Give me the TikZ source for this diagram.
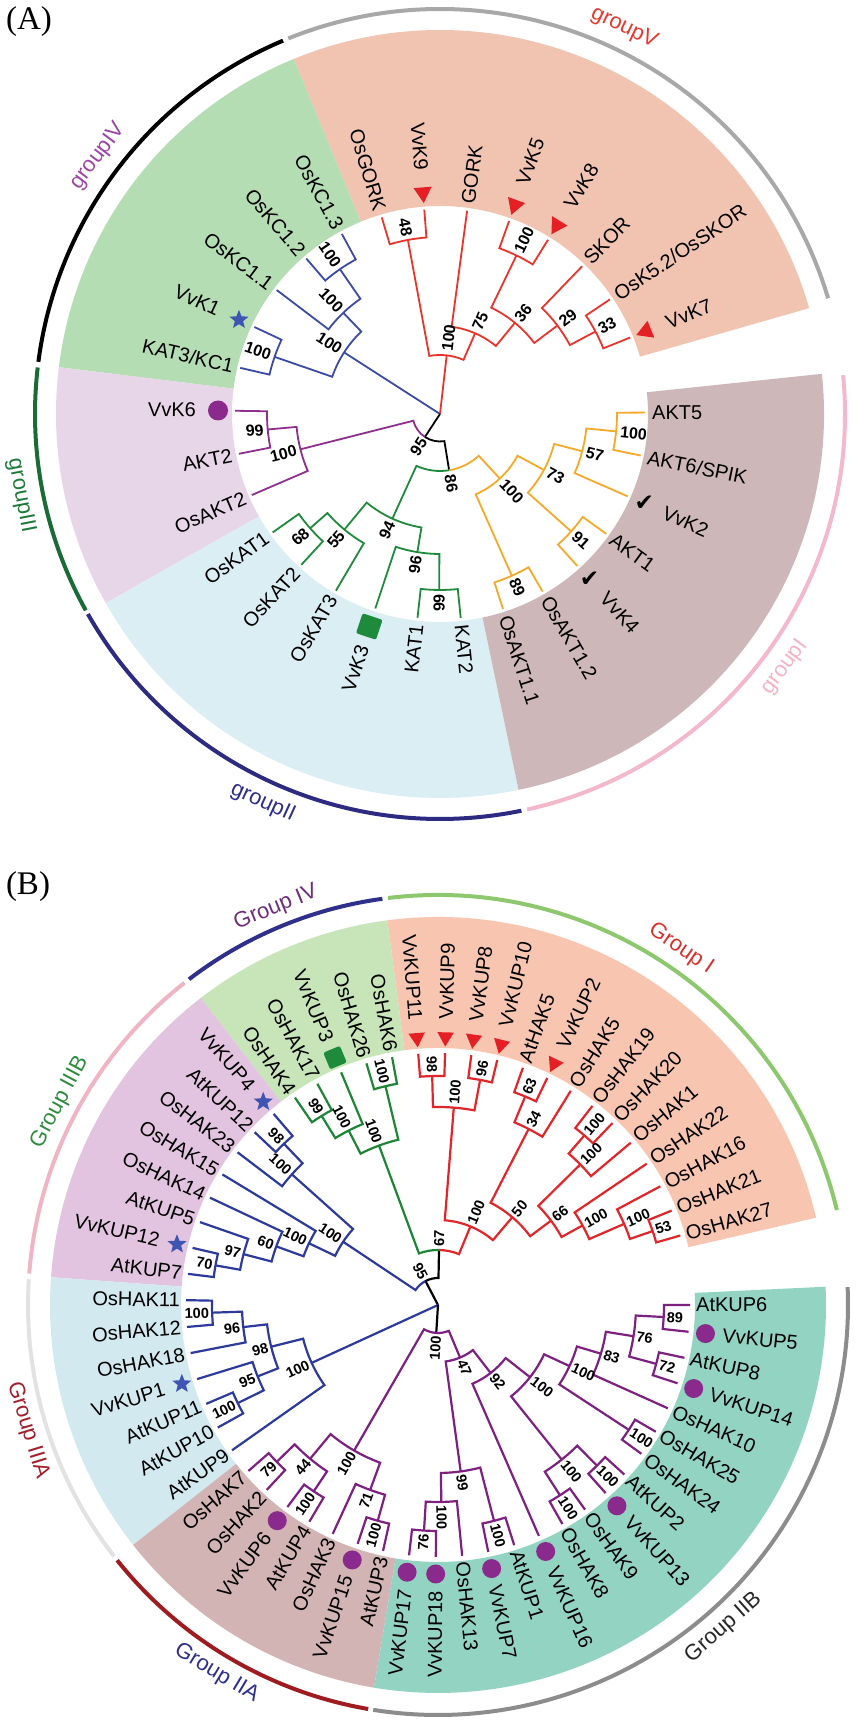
\documentclass[tikz,border=0pt]{standalone}
\usepackage{fontspec}
\setmainfont{Liberation Sans}
\newfontfamily\panelfont{Liberation Serif}
\newfontfamily\symfont{DejaVu Sans}
\usetikzlibrary{shapes.geometric}

% tree colours
\definecolor{aRed}{HTML}{E8352B}
\definecolor{aBlue}{HTML}{3A4AA6}
\definecolor{aPurple}{HTML}{8E2F8E}
\definecolor{aGreen}{HTML}{1F8A3C}
\definecolor{aOrange}{HTML}{F6A928}
\definecolor{bRed}{HTML}{E1262B}
\definecolor{bBlue}{HTML}{2C3A9C}
\definecolor{bPurple}{HTML}{7D2180}
\definecolor{bGreen}{HTML}{1E8436}
% sector colours
\definecolor{bgSalmonA}{HTML}{F1C3B1}
\definecolor{bgGreenA}{HTML}{B5DDB3}
\definecolor{bgLilacA}{HTML}{E7D6E7}
\definecolor{bgSkyA}{HTML}{DBEEF3}
\definecolor{bgMauveA}{HTML}{CEB7B8}
\definecolor{bgGreenB}{HTML}{C7E5B9}
\definecolor{bgSalmonB}{HTML}{F8C6B0}
\definecolor{bgLilacB}{HTML}{E2C4E0}
\definecolor{bgSkyB}{HTML}{D2EAEF}
\definecolor{bgMauveB}{HTML}{D3B4B5}
\definecolor{bgTealB}{HTML}{92D4C1}
% group arcs and titles
\definecolor{arcGreyA}{HTML}{A8A8A8}
\definecolor{arcGreenA}{HTML}{1B6B36}
\definecolor{arcNavyA}{HTML}{2D2A82}
\definecolor{arcPinkA}{HTML}{F4B8CB}
\definecolor{labRedA}{HTML}{E5392F}
\definecolor{labPurpleA}{HTML}{9B45A5}
\definecolor{labGreenA}{HTML}{1F7A3A}
\definecolor{labNavyA}{HTML}{2E2D8C}
\definecolor{labPinkA}{HTML}{F4B3C5}
\definecolor{arcNavyB}{HTML}{2F2F8C}
\definecolor{arcGreenB}{HTML}{8DC86F}
\definecolor{arcPinkB}{HTML}{F0B5C5}
\definecolor{arcGreyLB}{HTML}{E2E2E2}
\definecolor{arcRedB}{HTML}{9E1C1F}
\definecolor{arcGreyB}{HTML}{8C8C8C}
\definecolor{labPurpleB}{HTML}{6E2C7C}
\definecolor{labRedB}{HTML}{D8312C}
\definecolor{labGreenB}{HTML}{2D8B3E}
\definecolor{labRedDB}{HTML}{A11F2A}
\definecolor{labNavyB}{HTML}{2E2F8C}
\definecolor{markRed}{HTML}{E52025}
\definecolor{markBlue}{HTML}{3F55B2}
\definecolor{markPurple}{HTML}{8A2A8C}
\definecolor{markGreen}{HTML}{1E8A3C}

\tikzset{
  leaflab/.style={inner sep=0pt, font=\fontsize{20}{22}\selectfont},
  bootA/.style={inner sep=0pt, font=\bfseries\fontsize{16}{17}\selectfont},
  bootB/.style={inner sep=0pt, font=\bfseries\fontsize{14.5}{15}\selectfont},
  grplab/.style={inner sep=0pt, font=\fontsize{22}{24}\selectfont},
  ared/.style={draw=aRed, line width=1.8pt},
  ablue/.style={draw=aBlue, line width=1.8pt},
  apurple/.style={draw=aPurple, line width=1.8pt},
  agreen/.style={draw=aGreen, line width=1.8pt},
  aorange/.style={draw=aOrange, line width=1.8pt},
  ablack/.style={draw=black, line width=1.8pt},
  bred/.style={draw=bRed, line width=2.2pt},
  bblue/.style={draw=bBlue, line width=2.2pt},
  bpurple/.style={draw=bPurple, line width=2.2pt},
  bgreen/.style={draw=bGreen, line width=2.2pt},
  bblack/.style={draw=black, line width=2.2pt},
  trimark/.style={regular polygon, regular polygon sides=3, fill=markRed, inner sep=0pt, minimum size=21pt},
  starmark/.style={star, star points=5, star point ratio=2.3, fill=markBlue, inner sep=0pt, minimum size=20pt},
  circmark/.style={circle, fill=markPurple, inner sep=0pt, minimum size=19pt},
  sqmark/.style={rounded corners=2pt, fill=markGreen, inner sep=0pt, minimum size=19pt},
  chkmark/.style={inner sep=0pt, font=\symfont\bfseries\fontsize{23}{23}\selectfont},
}

% bracket of one node: [style]{angle 1}{radius 1}{angle 2}{radius 2}{node radius}
\newcommand{\clade}[6][]{\draw[#1] (#2:#3) -- (#2:#6) arc[start angle=#2, end angle=#4, radius=#6] -- (#4:#5);}
% leaf name: [style]{name}{angle}{radius}{text}
\newcommand{\taxon}[5][]{%
  \pgfmathparse{cos(#3)}%
  \ifdim\pgfmathresult pt<-0.001pt
    \node[leaflab,#1,anchor=east,rotate=#3-180] (#2) at (#3:#4) {#5};%
  \else
    \node[leaflab,#1,anchor=west,rotate=#3] (#2) at (#3:#4) {#5};%
  \fi}
% bootstrap value: {style}{name}{angle}{radius}{text}
\newcommand{\boot}[5]{%
  \pgfmathparse{cos(#3)}%
  \ifdim\pgfmathresult pt<-0.001pt
    \node[#1,anchor=east,rotate=#3-180] (#2) at (#3:#4) {#5};%
  \else
    \node[#1,anchor=west,rotate=#3] (#2) at (#3:#4) {#5};%
  \fi}
% group title: {name}{angle}{radius}{colour}{text}
\newcommand{\grouplabel}[5]{%
  \pgfmathparse{sin(#2)}%
  \ifdim\pgfmathresult pt<0pt
    \node[grplab,text=#4,rotate=#2+90] (#1) at (#2:#3) {#5};%
  \else
    \node[grplab,text=#4,rotate=#2-90] (#1) at (#2:#3) {#5};%
  \fi}
% coloured ring sector: {colour}{angle 1}{angle 2}{inner}{outer}
\newcommand{\bgsector}[5]{\fill[#1] (#2:#4) arc[start angle=#2, end angle=#3, radius=#4] -- (#3:#5) arc[start angle=#3, end angle=#2, radius=#5] -- cycle;}
% outer group arc: {colour}{angle 1}{angle 2}{radius}
\newcommand{\grouparc}[4]{\draw[#1, line width=4pt] (#2:#4) arc[start angle=#2, end angle=#3, radius=#4];}

\begin{document}
\begin{tikzpicture}[x=1pt, y=1pt]
\useasboundingbox (0,0) rectangle (855,1723);
\fill[white] (0,0) rectangle (855,1723);

\node[font=\panelfont\fontsize{33}{36}\selectfont, inner sep=0pt] (pA) at (29,1701) {(A)};
\node[font=\panelfont\fontsize{33}{36}\selectfont, inner sep=0pt] (pB) at (28,836) {(B)};

%%%%%%%%%%%%%%%% panel A
\begin{scope}[shift={(440,1309)}]
% sectors
\bgsector{bgSalmonA}{16}{112.4}{208}{384}
\bgsector{bgGreenA}{112.4}{173}{208}{384}
\bgsector{bgLilacA}{173}{209.5}{208}{384}
\bgsector{bgSkyA}{209.5}{281.8}{208}{384}
\bgsector{bgMauveA}{281.8}{366}{208}{384}
% group arcs
\grouparc{arcGreyA}{16.6}{112}{405}
\grouparc{black}{112.8}{172.6}{405}
\grouparc{arcGreenA}{173.4}{209}{405}
\grouparc{arcNavyA}{209.6}{281.6}{405}
\grouparc{arcPinkA}{282.4}{365.5}{405}
\grouplabel{gA-V}{64.5}{428}{labRedA}{groupV}
\grouplabel{gA-IV}{143}{428}{labPurpleA}{groupIV}
\grouplabel{gA-III}{191}{427}{labGreenA}{groupIII}
\grouplabel{gA-II}{245.5}{427}{labNavyA}{groupII}
\grouplabel{gA-I}{323.7}{428}{labPinkA}{groupI}

% root
\draw[ablue] (0,0) -- (147.3:114);
\draw[ared] (0,0) -- (83.5:59);
\draw[ablack] (0,0) -- (236.7:27.5);
\draw[apurple] (194.2:144) -- (194.2:27.5) arc[start angle=194.2, end angle=236.7, radius=27.5];
\draw[ablack] (236.7:27.5) arc[start angle=236.7, end angle=279.2, radius=27.5] -- (279.2:57);
\draw[agreen] (245.55:115) -- (245.55:57) arc[start angle=245.55, end angle=279.2, radius=57];
\draw[aorange] (279.2:57) arc[start angle=279.2, end angle=312.8, radius=57] -- (312.8:88);
% group V
\clade[ared]{100.45}{177}{66.5}{88}{59}
\clade[ared]{106.5}{205}{94.4}{205}{177}
\clade[ared]{82.4}{205}{50.6}{118}{88}
\clade[ared]{64.25}{176}{37.0}{147}{118}
\clade[ared]{70.3}{205}{58.2}{205}{176}
\clade[ared]{46.1}{205}{27.95}{176}{147}
\clade[ared]{34.0}{205}{21.9}{205}{176}
% group IV
\clade[ablue]{160.95}{175}{133.7}{140}{114}
\clade[ablue]{167.0}{205}{154.9}{205}{175}
\clade[ablue]{142.8}{205}{124.65}{176}{140}
\clade[ablue]{130.7}{205}{118.6}{205}{176}
% group III
\clade[apurple]{185.15}{173}{203.3}{205}{144}
\clade[apurple]{179.1}{205}{191.2}{205}{173}
% group II
\clade[agreen]{230.4}{150}{260.7}{140}{115}
\clade[agreen]{221.35}{173}{239.5}{205}{150}
\clade[agreen]{215.3}{205}{227.4}{205}{173}
\clade[agreen]{251.6}{205}{269.75}{176}{140}
\clade[agreen]{263.7}{205}{275.8}{205}{176}
% group I
\clade[aorange]{331.7}{118}{293.95}{177}{88}
\clade[aorange]{345.3}{147}{318.15}{176}{118}
\clade[aorange]{354.35}{177}{336.3}{205}{147}
\clade[aorange]{360.4}{205}{348.3}{205}{177}
\clade[aorange]{324.2}{205}{312.1}{205}{176}
\clade[aorange]{300.0}{205}{287.9}{205}{177}

% bootstrap values
\boot{bootA}{bA-V}{83.5}{63}{100}
\boot{bootA}{bA-48}{100.45}{181}{48}
\boot{bootA}{bA-75}{66.5}{92}{75}
\boot{bootA}{bA-36}{50.6}{122}{36}
\boot{bootA}{bA-K58}{64.25}{180}{100}
\boot{bootA}{bA-29}{37.0}{151}{29}
\boot{bootA}{bA-33}{27.95}{180}{33}
\boot{bootA}{bA-IV}{147.3}{118}{100}
\boot{bootA}{bA-KAT3}{160.95}{179}{100}
\boot{bootA}{bA-KCb}{133.7}{144}{100}
\boot{bootA}{bA-KCa}{124.65}{180}{100}
\boot{bootA}{bA-III}{194.2}{148}{100}
\boot{bootA}{bA-99a}{185.15}{177}{99}
\boot{bootA}{bA-95}{236.7}{30}{95}
\boot{bootA}{bA-86}{279.2}{61}{86}
\boot{bootA}{bA-94}{245.55}{119}{94}
\boot{bootA}{bA-55}{230.4}{154}{55}
\boot{bootA}{bA-68}{221.35}{177}{68}
\boot{bootA}{bA-96}{260.7}{144}{96}
\boot{bootA}{bA-99b}{269.75}{180}{99}
\boot{bootA}{bA-I}{312.8}{92}{100}
\boot{bootA}{bA-73}{331.7}{122}{73}
\boot{bootA}{bA-57}{345.3}{151}{57}
\boot{bootA}{bA-AKT}{354.35}{181}{100}
\boot{bootA}{bA-91}{318.15}{180}{91}
\boot{bootA}{bA-89}{293.95}{181}{89}

% markers
\node[trimark, rotate=111.9] (m-VvK7) at (21.9:222) {};
\node[trimark, rotate=148.2] (m-VvK8) at (58.2:222) {};
\node[trimark, rotate=160.3] (m-VvK5) at (70.3:222) {};
\node[trimark, rotate=184.4] (m-VvK9) at (94.4:222) {};
\node[starmark] (m-VvK1) at (154.9:222) {};
\node[circmark, minimum size=20pt] (m-VvK6) at (179.1:222) {};
\node[sqmark, minimum size=21pt, rotate=251.6] (m-VvK3) at (251.6:224) {};
\node[chkmark] (m-VvK4) at (312.1:223) {✔};
\node[chkmark] (m-VvK2) at (336.3:223) {✔};

% leaves
\taxon{a-VvK7}{21.9}{244}{VvK7}
\taxon{a-OsK52}{34.0}{212}{OsK5.2/OsSKOR}
\taxon{a-SKOR}{46.1}{212}{SKOR}
\taxon{a-VvK8}{58.2}{244}{VvK8}
\taxon{a-VvK5}{70.3}{244}{VvK5}
\taxon{a-GORK}{82.4}{212}{GORK}
\taxon{a-VvK9}{94.4}{244}{VvK9}
\taxon{a-OsGORK}{106.5}{212}{OsGORK}
\taxon{a-OsKC13}{118.6}{212}{OsKC1.3}
\taxon{a-OsKC12}{130.7}{212}{OsKC1.2}
\taxon{a-OsKC11}{142.8}{212}{OsKC1.1}
\taxon{a-VvK1}{154.9}{244}{VvK1}
\taxon{a-KAT3}{167.0}{212}{KAT3/KC1}
\taxon{a-VvK6}{179.1}{244}{VvK6}
\taxon{a-AKT2}{191.2}{212}{AKT2}
\taxon{a-OsAKT2}{203.3}{212}{OsAKT2}
\taxon{a-OsKAT1}{215.3}{212}{OsKAT1}
\taxon{a-OsKAT2}{227.4}{212}{OsKAT2}
\taxon{a-OsKAT3}{239.5}{212}{OsKAT3}
\taxon{a-VvK3}{251.6}{244}{VvK3}
\taxon{a-KAT1}{263.7}{212}{KAT1}
\taxon{a-KAT2}{275.8}{212}{KAT2}
\taxon{a-OsAKT11}{287.9}{212}{OsAKT1.1}
\taxon{a-OsAKT12}{300.0}{212}{OsAKT1.2}
\taxon{a-VvK4}{312.1}{244}{VvK4}
\taxon{a-AKT1}{324.2}{212}{AKT1}
\taxon{a-VvK2}{336.3}{244}{VvK2}
\taxon{a-AKT6}{348.3}{212}{AKT6/SPIK}
\taxon{a-AKT5}{360.4}{212}{AKT5}
\end{scope}

%%%%%%%%%%%%%%%% panel B
\begin{scope}[shift={(438,418)}]
% sectors
\bgsector{bgSalmonB}{13}{97.5}{257}{388}
\bgsector{bgGreenB}{97.5}{127.7}{257}{388}
\bgsector{bgLilacB}{127.7}{175.9}{257}{388}
\bgsector{bgSkyB}{175.9}{218.2}{257}{388}
\bgsector{bgMauveB}{218.2}{260.5}{257}{388}
\bgsector{bgTealB}{260.5}{362.7}{257}{388}
% group arcs
\grouparc{arcGreenB}{13.4}{97.0}{410}
\grouparc{arcNavyB}{97.8}{127.4}{410}
\grouparc{arcPinkB}{128.2}{175.6}{410}
\grouparc{arcGreyLB}{176.4}{217.8}{410}
\grouparc{arcRedB}{218.5}{260.2}{410}
\grouparc{arcGreyB}{260.9}{362.5}{410}
\grouplabel{gB-IV}{112.2}{429}{labPurpleB}{Group IV}
\grouplabel{gB-I}{55.7}{431}{labRedB}{Group I}
\grouplabel{gB-IIIB}{151.8}{429}{labGreenB}{Group IIIB}
\grouplabel{gB-IIIA}{197}{429}{labRedDB}{Group IIIA}
\grouplabel{gB-IIA}{239}{430}{labNavyB}{Group IIA}
\grouplabel{gB-IIB}{311.5}{431}{black!85}{Group IIB}

% root
\draw[bblack] (0,0) -- (117.63:27);
\draw[bblue] (0,0) -- (204.62:139);
\draw[bblack] (0,0) -- (266.4:28);
\draw[bblue] (146.32:114) -- (146.32:27) arc[start angle=146.32, end angle=117.63, radius=27];
\draw[bblack] (117.63:27) arc[start angle=117.63, end angle=88.94, radius=27] -- (88.94:55);
\draw[bgreen] (110.3:170) -- (110.3:55) arc[start angle=110.3, end angle=88.94, radius=55];
\draw[bred] (88.94:55) arc[start angle=88.94, end angle=67.585, radius=55] -- (67.585:85);
% group IV
\clade[bgreen]{117.1}{196}{103.5}{225}{170}
\clade[bgreen]{121.6}{222}{112.6}{252}{196}
\clade[bgreen]{124.6}{252}{118.6}{252}{222}
\clade[bgreen]{106.5}{252}{100.5}{252}{225}
% group I
\clade[bred]{85.425}{198}{49.745}{115}{85}
\clade[bred]{91.45}{229}{79.4}{229}{198}
\clade[bred]{94.5}{252}{88.4}{252}{229}
\clade[bred]{82.4}{252}{76.4}{252}{229}
\clade[bred]{62.75}{198}{36.74}{141}{115}
\clade[bred]{67.3}{226}{58.2}{252}{198}
\clade[bred]{70.3}{252}{64.3}{252}{226}
\clade[bred]{44.65}{200}{28.825}{165}{141}
\clade[bred]{49.2}{224}{40.1}{252}{200}
\clade[bred]{52.2}{252}{46.2}{252}{224}
\clade[bred]{34.1}{252}{23.55}{203}{165}
\clade[bred]{28.1}{252}{19.0}{227}{203}
\clade[bred]{22.0}{252}{16.0}{252}{227}
% group IIIB
\clade[bblue]{138.2}{196}{154.44}{143}{114}
\clade[bblue]{133.7}{223}{142.7}{252}{196}
\clade[bblue]{130.7}{252}{136.7}{252}{223}
\clade[bblue]{148.8}{252}{160.075}{172}{143}
\clade[bblue]{154.8}{252}{165.35}{201}{172}
\clade[bblue]{160.8}{252}{169.9}{226}{201}
\clade[bblue]{166.9}{252}{172.9}{252}{226}
% group IIIA
\clade[bblue]{194.04}{172}{215.2}{252}{139}
\clade[bblue]{186.475}{196}{201.6}{194}{172}
\clade[bblue]{181.95}{226}{191.0}{252}{196}
\clade[bblue]{178.9}{252}{185.0}{252}{226}
\clade[bblue]{197.1}{252}{206.1}{223}{194}
\clade[bblue]{203.1}{252}{209.1}{252}{223}
% group II
\clade[bpurple]{240.05}{168}{292.75}{57}{28}
\clade[bpurple]{230.25}{200}{249.85}{197}{168}
\clade[bpurple]{224.2}{225}{236.3}{224}{200}
\clade[bpurple]{221.2}{252}{227.2}{252}{225}
\clade[bpurple]{233.3}{252}{239.3}{252}{224}
\clade[bpurple]{245.3}{252}{254.4}{224}{197}
\clade[bpurple]{251.4}{252}{257.4}{252}{224}
\clade[bpurple]{277.76}{168}{307.74}{86}{57}
\clade[bpurple]{270.975}{197}{284.55}{223}{168}
\clade[bpurple]{266.45}{226}{275.5}{252}{197}
\clade[bpurple]{263.4}{252}{269.5}{252}{226}
\clade[bpurple]{281.5}{252}{287.6}{252}{223}
\clade[bpurple]{293.6}{252}{321.88}{117}{86}
\clade[bpurple]{308.675}{198}{335.08}{145}{117}
\clade[bpurple]{302.65}{226}{314.7}{226}{198}
\clade[bpurple]{299.6}{252}{305.7}{252}{226}
\clade[bpurple]{311.7}{252}{317.7}{252}{226}
\clade[bpurple]{326.8}{228}{343.36}{170}{145}
\clade[bpurple]{323.8}{252}{329.8}{252}{228}
\clade[bpurple]{335.8}{252}{350.925}{198}{170}
\clade[bpurple]{344.9}{226}{356.95}{226}{198}
\clade[bpurple]{341.9}{252}{347.9}{252}{226}
\clade[bpurple]{353.9}{252}{360.0}{252}{226}

% bootstrap values
\boot{bootB}{bB-98r}{91.45}{232}{98}
\boot{bootB}{bB-96r}{79.4}{232}{96}
\boot{bootB}{bB-r1}{85.425}{201}{100}
\boot{bootB}{bB-63}{67.3}{229}{63}
\boot{bootB}{bB-34}{62.75}{201}{34}
\boot{bootB}{bB-r2}{49.2}{227}{100}
\boot{bootB}{bB-r3}{44.65}{203}{100}
\boot{bootB}{bB-53}{19.0}{230}{53}
\boot{bootB}{bB-r4}{23.55}{206}{100}
\boot{bootB}{bB-r5}{28.825}{168}{100}
\boot{bootB}{bB-66}{36.74}{144}{66}
\boot{bootB}{bB-50}{49.745}{118}{50}
\boot{bootB}{bB-r6}{67.585}{88}{100}
\boot{bootB}{bB-99g}{121.6}{225}{99}
\boot{bootB}{bB-g1}{117.1}{199}{100}
\boot{bootB}{bB-g2}{103.5}{228}{100}
\boot{bootB}{bB-g3}{110.3}{173}{100}
\boot{bootB}{bB-67}{88.94}{58}{67}
\boot{bootB}{bB-98b}{133.7}{226}{98}
\boot{bootB}{bB-b1}{138.2}{199}{100}
\boot{bootB}{bB-70}{169.9}{229}{70}
\boot{bootB}{bB-97}{165.35}{204}{97}
\boot{bootB}{bB-60}{160.075}{175}{60}
\boot{bootB}{bB-b2}{154.44}{146}{100}
\boot{bootB}{bB-b3}{146.32}{117}{100}
\boot{bootB}{bB-95r}{117.63}{30}{95}
\boot{bootB}{bB-a1}{181.95}{229}{100}
\boot{bootB}{bB-96a}{186.475}{199}{96}
\boot{bootB}{bB-a2}{206.1}{226}{100}
\boot{bootB}{bB-95a}{201.6}{197}{95}
\boot{bootB}{bB-98a}{194.04}{175}{98}
\boot{bootB}{bB-a3}{204.62}{142}{100}
\boot{bootB}{bB-79}{224.2}{228}{79}
\boot{bootB}{bB-p1}{236.3}{227}{100}
\boot{bootB}{bB-44}{230.25}{203}{44}
\boot{bootB}{bB-p2}{254.4}{227}{100}
\boot{bootB}{bB-71}{249.85}{200}{71}
\boot{bootB}{bB-p3}{240.05}{171}{100}
\boot{bootB}{bB-76a}{266.45}{229}{76}
\boot{bootB}{bB-p4}{270.975}{200}{100}
\boot{bootB}{bB-p5}{284.55}{226}{100}
\boot{bootB}{bB-99p}{277.76}{171}{99}
\boot{bootB}{bB-p6}{302.65}{229}{100}
\boot{bootB}{bB-p7}{314.7}{229}{100}
\boot{bootB}{bB-p8}{308.675}{201}{100}
\boot{bootB}{bB-p9}{326.8}{231}{100}
\boot{bootB}{bB-89}{356.95}{229}{89}
\boot{bootB}{bB-72}{344.9}{229}{72}
\boot{bootB}{bB-76b}{350.925}{201}{76}
\boot{bootB}{bB-83}{343.36}{173}{83}
\boot{bootB}{bB-p10}{335.08}{148}{100}
\boot{bootB}{bB-p11}{321.88}{120}{100}
\boot{bootB}{bB-92}{307.74}{89}{92}
\boot{bootB}{bB-47}{292.75}{60}{47}
\boot{bootB}{bB-II}{266.4}{31}{100}

% markers
\node[trimark, minimum size=19pt, rotate=154.3] (m-VvKUP2) at (64.3:268) {};
\node[trimark, minimum size=19pt, rotate=166.4] (m-VvKUP10) at (76.4:268) {};
\node[trimark, minimum size=19pt, rotate=172.4] (m-VvKUP8) at (82.4:268) {};
\node[trimark, minimum size=19pt, rotate=178.4] (m-VvKUP9) at (88.4:268) {};
\node[trimark, minimum size=19pt, rotate=184.5] (m-VvKUP11) at (94.5:268) {};
\node[sqmark, minimum size=18pt, rotate=112.6] (m-VvKUP3) at (112.6:268) {};
\node[starmark] (m-VvKUP4) at (130.7:268) {};
\node[starmark] (m-VvKUP12) at (166.9:268) {};
\node[starmark] (m-VvKUP1) at (197.1:268) {};
\node[circmark] (m-VvKUP6) at (233.3:269) {};
\node[circmark] (m-VvKUP15) at (251.4:269) {};
\node[circmark] (m-VvKUP17) at (263.4:269) {};
\node[circmark] (m-VvKUP18) at (269.5:269) {};
\node[circmark] (m-VvKUP7) at (281.5:269) {};
\node[circmark] (m-VvKUP16) at (293.6:269) {};
\node[circmark] (m-VvKUP13) at (311.7:269) {};
\node[circmark] (m-VvKUP14) at (341.9:269) {};
\node[circmark] (m-VvKUP5) at (353.9:269) {};

% leaves
\taxon{b-OsHAK27}{16.0}{258}{OsHAK27}
\taxon{b-OsHAK21}{22.0}{258}{OsHAK21}
\taxon{b-OsHAK16}{28.1}{258}{OsHAK16}
\taxon{b-OsHAK22}{34.1}{258}{OsHAK22}
\taxon{b-OsHAK1}{40.1}{258}{OsHAK1}
\taxon{b-OsHAK20}{46.2}{258}{OsHAK20}
\taxon{b-OsHAK19}{52.2}{258}{OsHAK19}
\taxon{b-OsHAK5}{58.2}{258}{OsHAK5}
\taxon{b-VvKUP2}{64.3}{286}{VvKUP2}
\taxon{b-AtHAK5}{70.3}{258}{AtHAK5}
\taxon{b-VvKUP10}{76.4}{286}{VvKUP10}
\taxon{b-VvKUP8}{82.4}{286}{VvKUP8}
\taxon{b-VvKUP9}{88.4}{286}{VvKUP9}
\taxon{b-VvKUP11}{94.5}{286}{VvKUP11}
\taxon{b-OsHAK6}{100.5}{258}{OsHAK6}
\taxon{b-OsHAK26}{106.5}{258}{OsHAK26}
\taxon{b-VvKUP3}{112.6}{286}{VvKUP3}
\taxon{b-OsHAK17}{118.6}{258}{OsHAK17}
\taxon{b-OsHAK4}{124.6}{258}{OsHAK4}
\taxon{b-VvKUP4}{130.7}{286}{VvKUP4}
\taxon{b-AtKUP12}{136.7}{258}{AtKUP12}
\taxon{b-OsHAK23}{142.7}{258}{OsHAK23}
\taxon{b-OsHAK15}{148.8}{258}{OsHAK15}
\taxon{b-OsHAK14}{154.8}{258}{OsHAK14}
\taxon{b-AtKUP5}{160.8}{258}{AtKUP5}
\taxon{b-VvKUP12}{166.9}{286}{VvKUP12}
\taxon{b-AtKUP7}{172.9}{258}{AtKUP7}
\taxon{b-OsHAK11}{178.9}{258}{OsHAK11}
\taxon{b-OsHAK12}{185.0}{258}{OsHAK12}
\taxon{b-OsHAK18}{191.0}{258}{OsHAK18}
\taxon{b-VvKUP1}{197.1}{286}{VvKUP1}
\taxon{b-AtKUP11}{203.1}{258}{AtKUP11}
\taxon{b-AtKUP10}{209.1}{258}{AtKUP10}
\taxon{b-AtKUP9}{215.2}{258}{AtKUP9}
\taxon{b-OsHAK7}{221.2}{258}{OsHAK7}
\taxon{b-OsHAK2}{227.2}{258}{OsHAK2}
\taxon{b-VvKUP6}{233.3}{286}{VvKUP6}
\taxon{b-AtKUP4}{239.3}{258}{AtKUP4}
\taxon{b-OsHAK3}{245.3}{258}{OsHAK3}
\taxon{b-VvKUP15}{251.4}{286}{VvKUP15}
\taxon{b-AtKUP3}{257.4}{258}{AtKUP3}
\taxon{b-VvKUP17}{263.4}{286}{VvKUP17}
\taxon{b-VvKUP18}{269.5}{286}{VvKUP18}
\taxon{b-OsHAK13}{275.5}{258}{OsHAK13}
\taxon{b-VvKUP7}{281.5}{286}{VvKUP7}
\taxon{b-AtKUP1}{287.6}{258}{AtKUP1}
\taxon{b-VvKUP16}{293.6}{286}{VvKUP16}
\taxon{b-OsHAK8}{299.6}{258}{OsHAK8}
\taxon{b-OsHAK9}{305.7}{258}{OsHAK9}
\taxon{b-VvKUP13}{311.7}{286}{VvKUP13}
\taxon{b-AtKUP2}{317.7}{258}{AtKUP2}
\taxon{b-OsHAK24}{323.8}{258}{OsHAK24}
\taxon{b-OsHAK25}{329.8}{258}{OsHAK25}
\taxon{b-OsHAK10}{335.8}{258}{OsHAK10}
\taxon{b-VvKUP14}{341.9}{286}{VvKUP14}
\taxon{b-AtKUP8}{347.9}{258}{AtKUP8}
\taxon{b-VvKUP5}{353.9}{286}{VvKUP5}
\taxon{b-AtKUP6}{360.0}{258}{AtKUP6}
\end{scope}
\end{tikzpicture}
\end{document}
